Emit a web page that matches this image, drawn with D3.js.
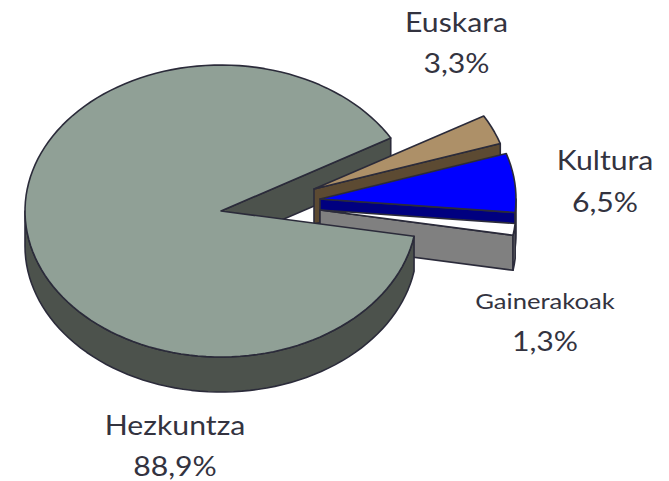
<!DOCTYPE html>
<html>
<head>
<meta charset="utf-8">
<script src="https://cdn.jsdelivr.net/npm/d3@7"></script>
<style>
    html, body { margin: 0; padding: 0; background: #fff; }
    svg { display: block; }
    text { font-family: Lato, "Open Sans", sans-serif; fill: #33333f; }
</style>
</head>
<body>
<div id="pieChart"></div>
<script>
// chart values
var categories = ["Euskara", "Kultura", "Gainerakoak", "Hezkuntza"];
var percents = [3.3, 6.5, 1.3, 88.9];

// set the dimensions of the graph
var width = 669,
    height = 481;

// ellipse of the pie and its thickness
var cx = 220, cy = 211, rx = 196, ry = 146, depth = 35;
var startAngle = 60 * Math.PI / 180;

// how far each slice is pulled out of the pie
var explode = {
    "Euskara": [94, -22],
    "Kultura": [100, -12],
    "Gainerakoak": [100, -1],
    "Hezkuntza": [1, 0]
};

var topColor = {
    "Euskara": "#ad9068",
    "Kultura": "#0000ff",
    "Gainerakoak": "#ffffff",
    "Hezkuntza": "#90a096"
};
var sideColor = {
    "Euskara": "#5c4a32",
    "Kultura": "#000080",
    "Gainerakoak": "#808080",
    "Hezkuntza": "#4c524c"
};
var outline = "#2b2b3a";

// label settings, the text in the picture is stretched sideways
var stretch = 1.12;
var labels = {
    "Euskara": { x: 456.5, y: 32, y2: 73, size: 27, sx: stretch },
    "Kultura": { x: 605, y: 170, y2: 212, size: 27, sx: stretch },
    "Gainerakoak": { x: 545, y: 309, y2: 351, size: 21.5, size2: 27, sx: 1.19 },
    "Hezkuntza": { x: 175, y: 435, y2: 476, size: 27, sx: stretch }
};

var svg = d3.select("#pieChart")
    .append("svg")
    .attr("width", width)
    .attr("height", height);

var pie = d3.pie()
    .sort(null)
    .startAngle(startAngle)
    .endAngle(startAngle + 2 * Math.PI);

var slices = pie(percents).map(function (d, i) {
    return { name: categories[i], value: percents[i], a0: d.startAngle, a1: d.endAngle };
});

var line = d3.line();

// d3 pie angle (0 = north, clockwise) to a point on the tilted pie
function point(name, a, r, drop) {
    var off = explode[name];
    return [
        cx + off[0] + r * rx * Math.sin(a),
        cy + off[1] - r * ry * Math.cos(a) + drop
    ];
}

function arcPoints(name, a0, a1, drop) {
    var step = 2.5 * Math.PI / 180;
    var n = Math.max(1, Math.ceil((a1 - a0) / step));
    return d3.range(n + 1).map(function (i) {
        return point(name, a0 + (a1 - a0) * i / n, 1, drop);
    });
}

function drawPath(pts, fill) {
    svg.append("path")
        .attr("d", line(pts) + "Z")
        .attr("fill", fill)
        .attr("stroke", outline)
        .attr("stroke-width", 1.6)
        .attr("stroke-linejoin", "round");
}

// wall along one straight cut of a slice
function drawCut(s, a) {
    drawPath([
        point(s.name, a, 0, 0),
        point(s.name, a, 1, 0),
        point(s.name, a, 1, depth),
        point(s.name, a, 0, depth)
    ], sideColor[s.name]);
}

// wall along the part of the rim that faces the viewer
function drawRim(s) {
    var a0 = Math.max(s.a0, Math.PI / 2);
    var a1 = Math.min(s.a1, 3 * Math.PI / 2);
    if (a1 <= a0) return;
    var pts = arcPoints(s.name, a0, a1, 0)
        .concat(arcPoints(s.name, a0, a1, depth).reverse());
    drawPath(pts, sideColor[s.name]);
}

function drawTop(s) {
    var pts = [point(s.name, 0, 0, 0)].concat(arcPoints(s.name, s.a0, s.a1, 0));
    drawPath(pts, topColor[s.name]);
}

var big = slices[3];

// back wall of the notch in the big slice goes first
drawCut(big, big.a1);

// pulled out slices, back to front
slices.slice(0, 3).forEach(function (s) {
    drawCut(s, s.a1);
    drawRim(s);
    drawTop(s);
});

// the big slice covers the inner ends of the others
drawRim(big);
drawTop(big);

// labels
var fmt = d3.formatLocale({ decimal: ",", thousands: ".", grouping: [3], currency: ["", ""] }).format(".1f");

slices.forEach(function (s) {
    var l = labels[s.name];
    svg.append("text")
        .attr("transform", "translate(" + l.x + "," + l.y + ") scale(" + l.sx + ",1)")
        .attr("text-anchor", "middle")
        .style("font-size", l.size + "px")
        .text(s.name);
    svg.append("text")
        .attr("transform", "translate(" + l.x + "," + l.y2 + ") scale(" + stretch + ",1)")
        .attr("text-anchor", "middle")
        .style("font-size", (l.size2 || l.size) + "px")
        .text(fmt(s.value) + "%");
});
</script>
</body>
</html>
